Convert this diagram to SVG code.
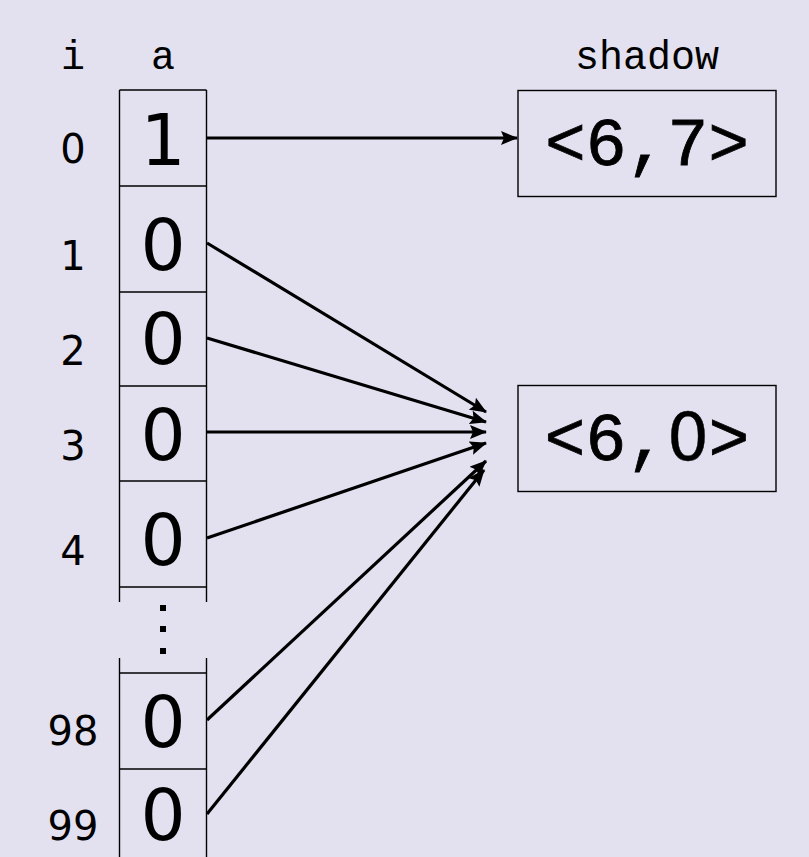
<svg xmlns="http://www.w3.org/2000/svg" width="809" height="857" viewBox="0 0 809 857">
  <style>
    .bg { fill: #e3e0f0; }
    .edge { stroke: #000; stroke-width: 1.4; fill: none; }
    .cell { font-family: "DejaVu Sans", "Liberation Sans", sans-serif; font-size: 71px; text-anchor: middle; fill: #000; }
    .idx { font-family: "DejaVu Sans", "Liberation Sans", sans-serif; font-size: 40px; text-anchor: middle; fill: #000; }
    .tt { font-family: "Liberation Mono", "DejaVu Sans Mono", monospace; font-size: 40px; text-anchor: middle; fill: #000; }
    .pair { font-family: "Liberation Mono", "DejaVu Sans Mono", monospace; font-size: 68px; text-anchor: middle; fill: #000; stroke: #000; stroke-width: 0.8; }
    .pair .plain { font-family: "DejaVu Sans", "Liberation Sans", sans-serif; font-size: 66px; stroke-width: 0.4; }
    .link { stroke: #000; stroke-width: 3.2; fill: none; marker-end: url(#head); }
  </style>
  <defs>
    <marker id="head" viewBox="0 0 17 14" refX="16" refY="7" markerWidth="17" markerHeight="14" markerUnits="userSpaceOnUse" orient="auto">
      <path d="M0,0 L17,7 L0,14 L3,7 Z" fill="#000"/>
    </marker>
  </defs>

  <rect class="bg" x="0" y="0" width="809" height="857"/>

  <!-- column headers -->
  <g id="headers">
    <text class="tt" x="73" y="69">i</text>
    <text class="tt" x="163" y="69">a</text>
    <text class="tt" x="647" y="69">shadow</text>
  </g>

  <!-- array a -->
  <g id="array">
    <line class="edge" x1="119.5" y1="90" x2="119.5" y2="602"/>
    <line class="edge" x1="206.5" y1="90" x2="206.5" y2="602"/>
    <line class="edge" x1="119.5" y1="658" x2="119.5" y2="857"/>
    <line class="edge" x1="206.5" y1="658" x2="206.5" y2="857"/>
    <line class="edge" x1="119.5" y1="90" x2="206.5" y2="90"/>
    <line class="edge" x1="119.5" y1="186" x2="206.5" y2="186"/>
    <line class="edge" x1="119.5" y1="292" x2="206.5" y2="292"/>
    <line class="edge" x1="119.5" y1="386" x2="206.5" y2="386"/>
    <line class="edge" x1="119.5" y1="481" x2="206.5" y2="481"/>
    <line class="edge" x1="119.5" y1="587" x2="206.5" y2="587"/>
    <line class="edge" x1="119.5" y1="673" x2="206.5" y2="673"/>
    <line class="edge" x1="119.5" y1="769" x2="206.5" y2="769"/>
    <!-- vertical ellipsis -->
    <rect x="160" y="605" width="6" height="6" fill="#000"/>
    <rect x="160" y="626" width="6" height="6" fill="#000"/>
    <rect x="160" y="648" width="6" height="6" fill="#000"/>
  </g>

  <g id="a0"><text class="idx" x="73" y="163">0</text><text class="cell" x="163" y="165">1</text></g>
  <g id="a1"><text class="idx" x="73" y="270">1</text><text class="cell" x="163" y="270">0</text></g>
  <g id="a2"><text class="idx" x="73" y="365">2</text><text class="cell" x="163" y="364">0</text></g>
  <g id="a3"><text class="idx" x="73" y="460">3</text><text class="cell" x="163" y="460">0</text></g>
  <g id="a4"><text class="idx" x="73" y="565">4</text><text class="cell" x="163" y="565">0</text></g>
  <g id="a98"><text class="idx" x="73" y="745">98</text><text class="cell" x="163" y="747">0</text></g>
  <g id="a99"><text class="idx" x="73" y="840">99</text><text class="cell" x="163" y="840">0</text></g>

  <!-- shadow entries -->
  <g id="s67">
    <rect class="edge" x="518" y="90.5" width="258" height="106"/>
    <text class="pair" x="647" y="165">&lt;6,7&gt;</text>
  </g>
  <g id="s60">
    <rect class="edge" x="518" y="385.5" width="258" height="106"/>
    <text class="pair" x="565 606 647 688 729" y="460">&lt;6,<tspan class="plain">0</tspan>&gt;</text>
  </g>

  <!-- connectors -->
  <g id="links">
    <line class="link" x1="207" y1="138" x2="517" y2="138"/>
    <line class="link" x1="207" y1="243" x2="486" y2="412"/>
    <line class="link" x1="207" y1="338" x2="486" y2="422"/>
    <line class="link" x1="207" y1="432" x2="486" y2="432"/>
    <line class="link" x1="207" y1="538" x2="486" y2="443"/>
    <line class="link" x1="207" y1="720" x2="486" y2="461"/>
    <line class="link" x1="207" y1="814" x2="484" y2="470"/>
  </g>
</svg>
